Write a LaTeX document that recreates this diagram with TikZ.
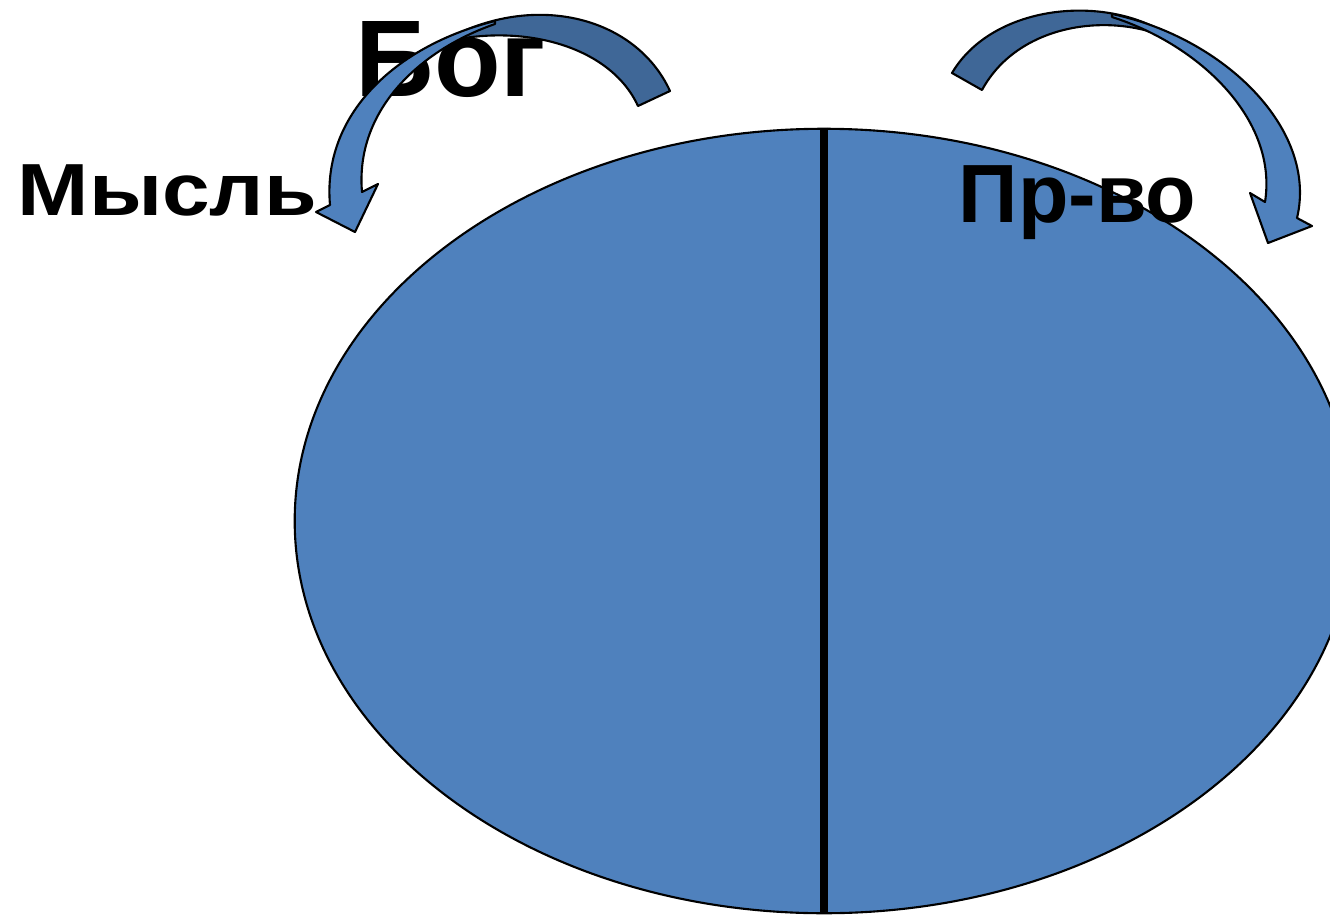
\documentclass[tikz,border=0pt]{standalone}
\usepackage{fontspec}
\setmainfont{Liberation Sans}
\usetikzlibrary{shapes.geometric}
\definecolor{OvalBlue}{HTML}{4F81BD}
\definecolor{TailBlue}{HTML}{3F6797}

\begin{document}
\begin{tikzpicture}[x=0.01cm,y=-0.01cm]
	\tikzstyle{LabelStyle}=[inner sep=0,anchor=base west]
	\tikzstyle{ArrowStyle}=[draw=black,line width=0.6pt,fill=OvalBlue,line join=round]
	\tikzstyle{TailStyle}=[ArrowStyle,fill=TailBlue]
	\useasboundingbox (0,0) rectangle (1330,915);
	\clip (0,0) rectangle (1330,915);
	% the oval and its split
	\node[ellipse,draw=black,line width=0.6pt,fill=OvalBlue,inner sep=0,
		minimum width=10.58cm,minimum height=7.84cm] (oval) at (824,521) {};
	\draw[line width=2pt] (oval.north) -- (oval.south);
	% labels
	\node[LabelStyle,font=\fontsize{31}{36}\selectfont\bfseries] (bog) at (355,97) {Бог};
	\node[LabelStyle,font=\fontsize{21}{25}\selectfont\bfseries] (mysl) at (17,215) {\scalebox{1.16}[1]{Мысль}};
	\node[LabelStyle,font=\fontsize{23.5}{28}\selectfont\bfseries] (prvo) at (958,222) {Пр-во};
	% left curved arrow
	\filldraw[TailStyle] (670,91) .. controls (635,15) and (530,-10) .. (440,43)
		.. controls (520,22) and (610,45) .. (638,106) -- cycle;
	\filldraw[ArrowStyle] (495,21) .. controls (395,46) and (322,115) .. (330,205)
		-- (316,212) -- (355,232) -- (378,184) -- (362,192)
		.. controls (355,110) and (420,50) .. (495,24) -- cycle;
	% right curved arrow
	\filldraw[TailStyle] (952,73) .. controls (995,0) and (1120,-8) .. (1180,44)
		.. controls (1120,10) and (1020,20) .. (982,90) -- cycle;
	\filldraw[ArrowStyle] (1112,14) .. controls (1225,38) and (1318,130) .. (1297,218)
		-- (1312,226) -- (1268,243) -- (1250,193) -- (1265,202)
		.. controls (1278,120) and (1200,45) .. (1112,17) -- cycle;
\end{tikzpicture}
\end{document}
